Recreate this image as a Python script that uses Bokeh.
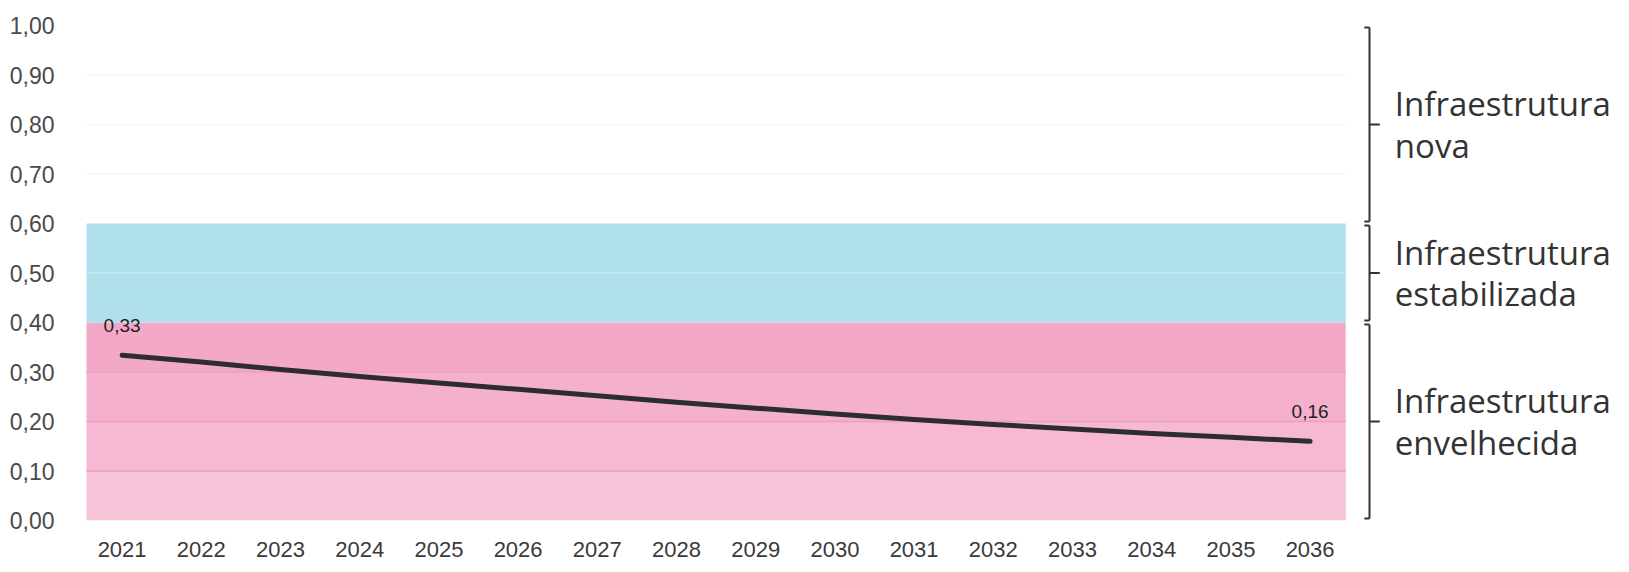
from bokeh.plotting import figure
from bokeh.models import Range1d, FixedTicker
from bokeh.core.properties import value
from bokeh.embed import file_html
from bokeh.resources import INLINE

# ---------------- data ----------------
years = list(range(2021, 2037))
values = [0.334, 0.320, 0.305, 0.291, 0.278, 0.265, 0.252, 0.239,
          0.227, 0.215, 0.204, 0.194, 0.185, 0.176, 0.168, 0.160]
label_years = [2021, 2036]
label_texts = ["0,33", "0,16"]

y_ticks = [0.0, 0.1, 0.2, 0.3, 0.4, 0.5, 0.6, 0.7, 0.8, 0.9, 1.0]
y_tick_labels = ["0,00", "0,10", "0,20", "0,30", "0,40", "0,50",
                 "0,60", "0,70", "0,80", "0,90", "1,00"]

zone_low = [0.0, 0.4, 0.6]
zone_high = [0.4, 0.6, 1.0]
zone_names = ["Infraestrutura\nenvelhecida",
              "Infraestrutura\nestabilizada",
              "Infraestrutura\nnova"]

# ---------------- layout ----------------
PX_PER_YEAR = 79.2
X0 = years[0] - 0.5
FRAME_W = 1539

p = figure(width=1621, height=564,
           x_range=Range1d(X0, X0 + FRAME_W / PX_PER_YEAR), y_range=Range1d(0, 1),
           output_backend="svg", toolbar_location=None,
           min_border_left=82, min_border_right=0,
           min_border_top=25, min_border_bottom=44)
p.outline_line_color = None
p.xgrid.visible = False
p.ygrid.visible = False
p.background_fill_color = "white"

band_l = years[0] - 0.45
band_r = years[-1] + 0.45

# pink zone (slight fade towards the bottom)
pink_shades = ["#f7c3d9", "#f6b8d2", "#f5b0cd", "#f4a8c8"]
pink_lo = [zone_low[0] + i * 0.1 for i in range(4)]
pink_hi = [v + 0.1 for v in pink_lo]
p.quad(left=band_l, right=band_r, bottom=pink_lo, top=pink_hi,
       fill_color=pink_shades, line_color=None)
# blue zone
p.quad(left=band_l, right=band_r, bottom=zone_low[1], top=zone_high[1],
       fill_color="#b0e0eb", line_color=None)

# gridlines
gy, gc = [], []
for t in y_ticks:
    if t <= 0 or t >= 1:
        continue
    if t < zone_high[0] - 1e-9:
        gy.append(t); gc.append("#eb9fc0")
    elif zone_low[1] + 1e-9 < t < zone_high[1] - 1e-9:
        gy.append(t); gc.append("#c6ebf3")
    elif t > zone_low[2] + 1e-9:
        gy.append(t); gc.append("#f6f6f6")
p.segment(x0=band_l, x1=band_r, y0=gy, y1=gy, line_color=gc, line_width=1.5)

# series line
p.line(years, values, line_width=5, line_color="#2d2d2d", line_cap="round",
       line_join="round")

# data labels
lab_vals = [values[years.index(y)] for y in label_years]
p.text(x=label_years, y=lab_vals, text=label_texts,
       text_font=value("Liberation Sans"), text_font_size="19px",
       text_color="#222222", text_align="center",
       text_baseline="alphabetic", y_offset=-30)

# braces
brace_x = years[-1] + 0.75
hook = 0.065
tick = 0.13
mids = [(lo + hi) / 2 for lo, hi in zip(zone_low, zone_high)]
starts = [lo + 0.004 for lo in zone_low]
stops = [hi - 0.004 for hi in zone_high]
p.segment(x0=brace_x, x1=brace_x, y0=starts, y1=stops,
          line_color="#333333", line_width=2)
ends = starts + stops
p.segment(x0=brace_x, x1=brace_x - hook, y0=ends, y1=ends,
          line_color="#333333", line_width=2)
p.segment(x0=brace_x, x1=brace_x + tick, y0=mids, y1=mids,
          line_color="#333333", line_width=2)

# zone labels
p.text(x=brace_x + 0.32, y=mids, text=zone_names,
       text_font=value("Open Sans"), text_font_size="33px",
       text_color="#333333", text_align="left", text_baseline="middle",
       text_line_height=0.93)

# axes
p.xaxis.ticker = FixedTicker(ticks=years)
p.xaxis.axis_line_color = None
p.xaxis.major_tick_line_color = None
p.xaxis.minor_tick_line_color = None
p.xaxis.major_label_text_font = "Liberation Sans"
p.xaxis.major_label_text_font_size = "22px"
p.xaxis.major_label_text_color = "#3a3a3a"
p.xaxis.major_label_standoff = 15

p.yaxis.ticker = FixedTicker(ticks=y_ticks)
p.yaxis.major_label_overrides = {t: l for t, l in zip(y_ticks, y_tick_labels)}
p.yaxis.axis_line_color = None
p.yaxis.major_tick_line_color = None
p.yaxis.minor_tick_line_color = None
p.yaxis.major_label_text_font = "Liberation Sans"
p.yaxis.major_label_text_font_size = "23px"
p.yaxis.major_label_text_color = "#4a4a4a"
p.yaxis.major_label_standoff = 22

open("out.html", "w").write(file_html(p, INLINE))
